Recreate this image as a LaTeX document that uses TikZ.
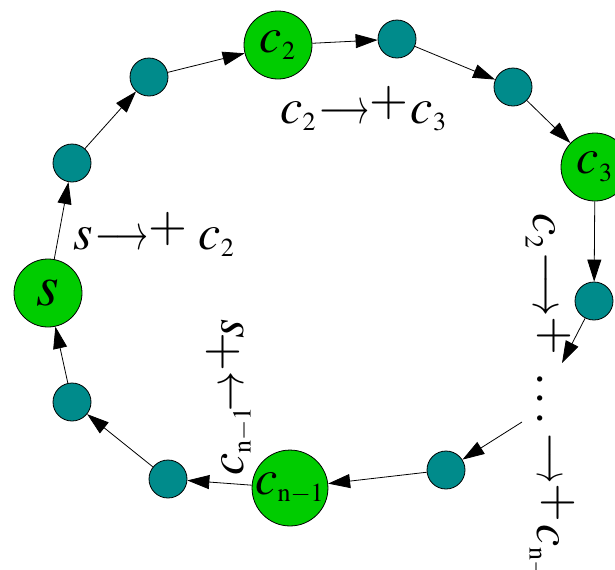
\documentclass[tikz,border=0pt]{standalone}
\usepackage{mathptmx}
\usepackage{graphicx}
\usepackage{tikz}
\usetikzlibrary{arrows.meta}
\usepackage{xcolor}
\definecolor{verde}{RGB}{0,204,0}
\definecolor{azulado}{RGB}{0,139,139}
\DeclareMathSizes{25}{25}{13}{10}
\newcommand{\flecha}[1][0.62]{\mkern1mu\scalebox{#1}[1]{$\longrightarrow$}\raisebox{4pt}{$+$}\mkern1mu}

\begin{document}
\begin{tikzpicture}[>={Triangle[length=11pt,width=7pt]}, x=0.5pt, y=-0.5pt,
    grande/.style={circle, draw, fill=verde, minimum size=34pt, inner sep=0pt,
        font=\fontsize{25}{30}\selectfont},
    peque/.style={circle, draw, fill=azulado, minimum size=19pt, inner sep=0pt},
    etiq/.style={inner sep=0pt, font=\fontsize{25}{30}\selectfont}]

\useasboundingbox (0,0) rectangle (615,569);

% Nodos
\node[grande, font=\fontsize{29}{34}\selectfont] (s) at (48,293) {$s$};
\node[peque] (a1) at (72,163) {};
\node[peque] (a2) at (149,77) {};
\node[grande] (c2) at (278,45) {$c_2$};
\node[peque] (a3) at (397,39) {};
\node[peque] (a4) at (513,87) {};
\node[grande] (c3) at (595,167) {$c_3$};
\node[peque] (a5) at (594,301) {};
\node[peque] (a6) at (446,470) {};
\node[grande] (cn) at (290,488) {$c_{\mathrm{n-1}}$};
\node[peque] (a7) at (168,479) {};
\node[peque] (a8) at (72,402) {};
\coordinate (fin) at (562,363);
\coordinate (ini) at (522,422);

% Flechas
\foreach \a/\b in {s/a1,a1/a2,a2/c2,c2/a3,a3/a4,a4/c3,c3/a5,a6/cn,cn/a7,a7/a8,a8/s}
    \draw[->] (\a) -- (\b);
\draw[->] (a5) -- (fin);
\draw[->] (ini) -- (a6);

% Etiquetas
\node[etiq, anchor=base west] (e1) at (73,249) {$s\flecha[0.66]\mkern3mu c_2$};
\node[etiq, anchor=base west] (e2) at (280,123) {$c_2\flecha c_3$};
\node[etiq, anchor=base west, rotate=-90] (e3) at (533,213) {$c_2\flecha[0.8]$};
\node[etiq, anchor=base west, rotate=-90] (e4) at (537,372)
    {$\ldotp\ldotp\ldotp\flecha c_{\mathrm{n-1}}$};
\node[etiq, anchor=base west, rotate=90] (e5) at (243,476)
    {$c_{\mathrm{n-1}}\!\scalebox{0.8}[1]{$\rightarrow$}\raisebox{4pt}{$+$}\mkern-2mu s$};

\end{tikzpicture}
\end{document}
